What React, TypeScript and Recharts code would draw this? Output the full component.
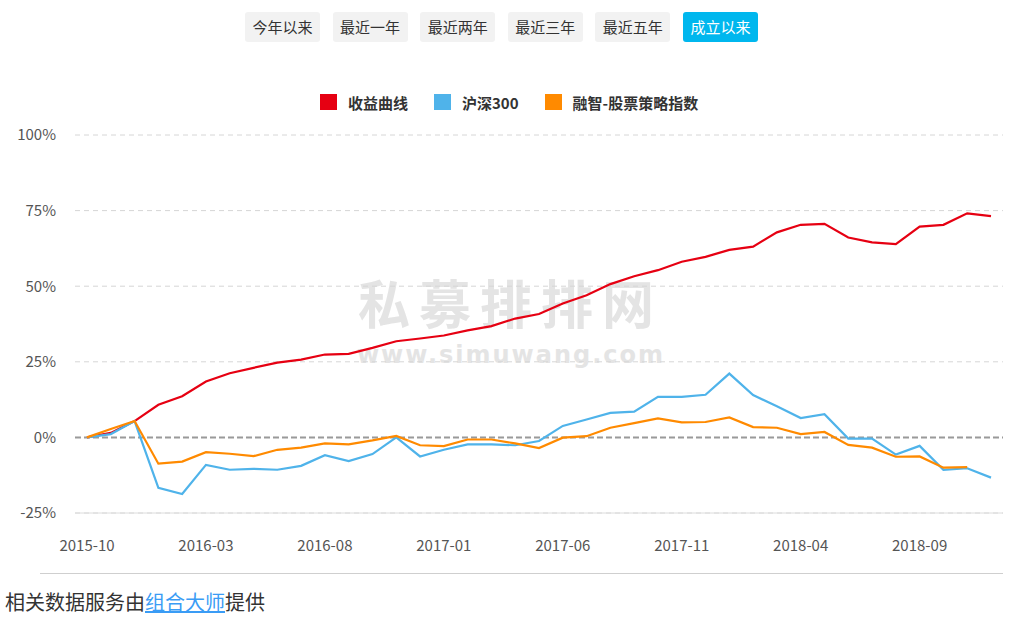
import { LineChart, Line, XAxis, YAxis, CartesianGrid, ReferenceLine } from 'recharts';

const months = [
  '2015-10', '2015-11', '2015-12', '2016-01', '2016-02', '2016-03', '2016-04', '2016-05', '2016-06', '2016-07',
  '2016-08', '2016-09', '2016-10', '2016-11', '2016-12', '2017-01', '2017-02', '2017-03', '2017-04', '2017-05',
  '2017-06', '2017-07', '2017-08', '2017-09', '2017-10', '2017-11', '2017-12', '2018-01', '2018-02', '2018-03',
  '2018-04', '2018-05', '2018-06', '2018-07', '2018-08', '2018-09', '2018-10', '2018-11', '2018-12',
];

// 收益曲线 (%)
const fundReturn = [
  0, 1.5, 5.4, 10.8, 13.6, 18.5, 21.2, 23, 24.7, 25.7,
  27.4, 27.6, 29.6, 31.8, 32.7, 33.7, 35.4, 36.8, 39.3, 40.8,
  44.3, 47, 50.7, 53.3, 55.3, 58.1, 59.7, 62, 63.1, 67.8,
  70.3, 70.6, 66.1, 64.5, 63.9, 69.7, 70.3, 74.1, 73.2,
];

// 沪深300 (%)
const hs300 = [
  0, 1.1, 5.4, -16.7, -18.7, -9.1, -10.7, -10.4, -10.7, -9.4,
  -5.9, -7.8, -5.5, 0, -6.3, -4.1, -2.3, -2.3, -2.6, -1.2,
  3.8, 5.9, 8.1, 8.5, 13.4, 13.4, 14.1, 21.1, 14, 10.3,
  6.4, 7.7, -0.4, -0.4, -5.7, -2.8, -10.7, -10.2, -13.3,
];

// 融智-股票策略指数 (%), no value for the last month
const strategyIndex: (number | null)[] = [
  0, 2.8, 5.4, -8.7, -8, -4.9, -5.4, -6.2, -4.1, -3.4,
  -2, -2.3, -1, 0.5, -2.6, -2.9, -0.7, -0.7, -2, -3.5,
  -0.1, 0.4, 3.2, 4.7, 6.3, 5, 5.1, 6.6, 3.4, 3.2,
  1.1, 1.8, -2.5, -3.4, -6.4, -6.3, -10, -9.8, null,
];

const yTicks = [-25, 0, 25, 50, 75, 100];
const periods = ['今年以来', '最近一年', '最近两年', '最近三年', '最近五年', '成立以来'];

const series = [
  { key: 'fund', name: '收益曲线', color: '#e60012' },
  { key: 'hs300', name: '沪深300', color: '#4fb3ea' },
  { key: 'index', name: '融智-股票策略指数', color: '#ff8a00' },
];

const chartData = months.map((m, i) => ({
  month: m,
  fund: fundReturn[i],
  hs300: hs300[i],
  index: strategyIndex[i],
}));

const font = "'Noto Sans CJK SC', 'Noto Sans', sans-serif";

export default function App() {
  return (
    <div style={{ position: 'absolute', left: 0, top: 0, width: 1014, height: 626, fontFamily: font, background: '#fff' }}>
      {/* period buttons */}
      <div style={{ position: 'absolute', left: 245, top: 12, display: 'flex', gap: 12.6 }}>
        {periods.map((p, i) => (
          <div
            key={p}
            style={{
              width: 75,
              height: 30,
              lineHeight: '30px',
              textAlign: 'center',
              fontSize: 15,
              borderRadius: 3,
              background: i === periods.length - 1 ? '#00b7ee' : '#f2f2f2',
              color: i === periods.length - 1 ? '#fff' : '#333',
            }}
          >
            {p}
          </div>
        ))}
      </div>

      {/* legend */}
      <div style={{ position: 'absolute', left: 320, top: 92, height: 20, display: 'flex', alignItems: 'center' }}>
        {series.map((s, i) => (
          <div key={s.key} style={{ display: 'flex', alignItems: 'center', marginLeft: i === 0 ? 0 : 26 }}>
            <div style={{ width: 17, height: 16, background: s.color }} />
            <span style={{ marginLeft: 11, fontSize: 15, fontWeight: 'bold', color: '#333' }}>{s.name}</span>
          </div>
        ))}
      </div>

      {/* watermark */}
      <div style={{ position: 'absolute', left: 358, top: 264, width: 312, height: 76, color: '#e4e4e4', fontWeight: 'bold', fontSize: 52, lineHeight: '76px', letterSpacing: 9, whiteSpace: 'nowrap' }}>
        私募排排网
      </div>
      <div style={{ position: 'absolute', left: 356, top: 341, width: 310, height: 28, textAlign: 'center', color: '#e4e4e4', fontWeight: 'bold', fontSize: 24, lineHeight: '28px', letterSpacing: 2, whiteSpace: 'nowrap', fontFamily: "'DejaVu Sans', sans-serif" }}>
        www.simuwang.com
      </div>

      <div style={{ position: 'absolute', left: 0, top: 0 }}>
        <LineChart width={1014} height={570} data={chartData} margin={{ top: 135, right: 11, left: 0, bottom: 17 }}>
          <CartesianGrid vertical={false} stroke="#d6d6d6" strokeDasharray="5 4" />
          <XAxis
            dataKey="month"
            interval={4}
            padding={{ left: 12, right: 12 }}
            tickLine={false}
            tickSize={0}
            tickMargin={27}
            height={40}
            axisLine={{ stroke: '#dcdcdc' }}
            tick={{ fill: '#555', fontSize: 15 }}
          />
          <YAxis
            domain={[-25, 100]}
            ticks={yTicks}
            tickFormatter={(v: number) => `${v}%`}
            axisLine={false}
            tickLine={false}
            tickSize={0}
            tickMargin={19}
            width={75}
            tick={{ fill: '#555', fontSize: 15 }}
          />
          <ReferenceLine y={0} stroke="#9a9a9a" strokeWidth={2} strokeDasharray="6 3" />
          {series.map((s) => (
            <Line
              key={s.key}
              type="linear"
              dataKey={s.key}
              name={s.name}
              stroke={s.color}
              strokeWidth={2.2}
              dot={false}
              activeDot={false}
              isAnimationActive={false}
            />
          ))}
        </LineChart>
      </div>

      {/* footer */}
      <div style={{ position: 'absolute', left: 40, top: 573, width: 963, height: 1, background: '#cfcfcf' }} />
      <div style={{ position: 'absolute', left: 5, top: 590, fontSize: 20, lineHeight: '24px', color: '#333' }}>
        相关数据服务由
        <span style={{ color: '#3a9cf5', textDecoration: 'underline' }}>组合大师</span>
        提供
      </div>
    </div>
  );
}
